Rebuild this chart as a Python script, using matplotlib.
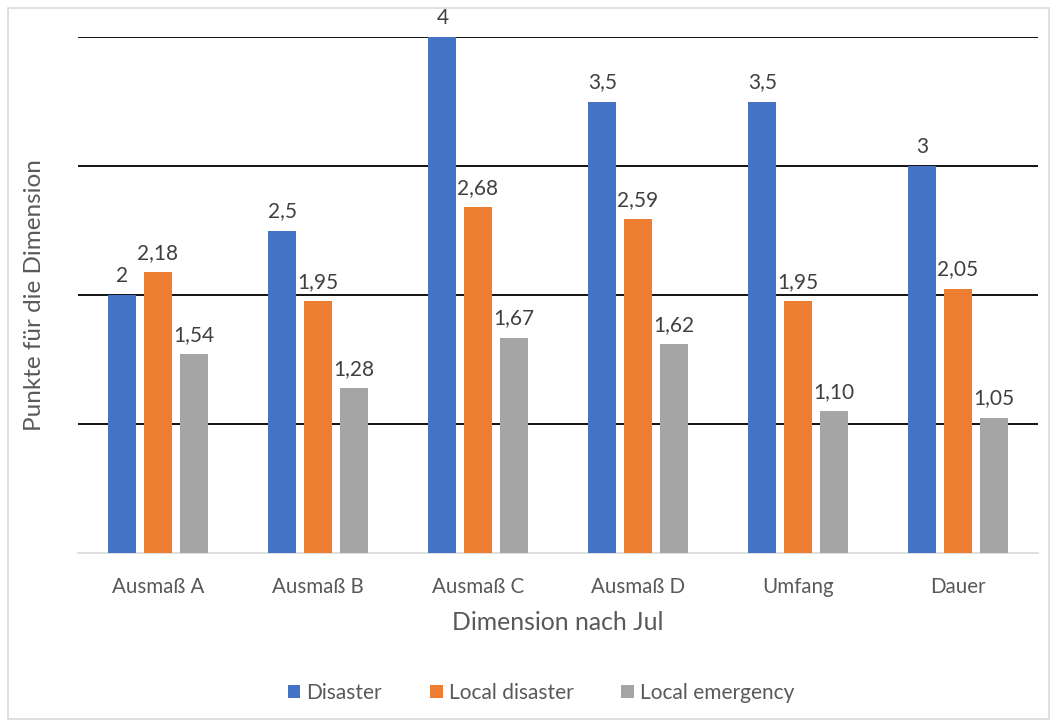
import matplotlib.pyplot as plt
import numpy as np
from matplotlib.patches import Rectangle

plt.rcParams['font.family'] = ['Lato', 'DejaVu Sans']

categories = ['Ausmaß A', 'Ausmaß B', 'Ausmaß C', 'Ausmaß D', 'Umfang', 'Dauer']
series = ['Disaster', 'Local disaster', 'Local emergency']
disaster = [2, 2.5, 4, 3.5, 3.5, 3]
local_disaster = [2.18, 1.95, 2.68, 2.59, 1.95, 2.05]
local_emergency = [1.54, 1.28, 1.67, 1.62, 1.10, 1.05]
labels_disaster = ['2', '2,5', '4', '3,5', '3,5', '3']
labels_local = ['2,18', '1,95', '2,68', '2,59', '1,95', '2,05']
labels_emergency = ['1,54', '1,28', '1,67', '1,62', '1,10', '1,05']

colors = ['#4472C4', '#ED7D31', '#A5A5A5']
text_col = '#595959'

fig = plt.figure(figsize=(10.59, 7.26), dpi=100)
ax = fig.add_axes([78 / 1059, 1 - 553 / 726, 960 / 1059, 516 / 726])

# outer chart border
fig.patches.append(Rectangle((8 / 1059, 7 / 726), 1041 / 1059, 711 / 726,
                             transform=fig.transFigure, fill=False,
                             edgecolor='#d9d9d9', linewidth=1.2))

x = np.arange(len(categories))
width = 0.175
step = 0.222
data = [disaster, local_disaster, local_emergency]
labs = [labels_disaster, labels_local, labels_emergency]

for i, (vals, lab) in enumerate(zip(data, labs)):
    pos = x + (i - 1) * step
    ax.bar(pos, vals, width, color=colors[i], label=series[i], zorder=3)
    for p, v, t in zip(pos, vals, lab):
        ax.text(p, v + 0.07, t, ha='center', va='bottom', fontsize=15,
                color='#404040')

ax.set_xlim(-0.5, len(categories) - 0.5)
ax.set_ylim(0, 4)
ax.set_yticks([1, 2, 3, 4])
ax.yaxis.grid(True, color='black', linewidth=1.3, zorder=0)
ax.tick_params(axis='y', left=False, labelleft=False)
ax.set_xticks(x)
ax.set_xticklabels(categories, fontsize=14.8, color=text_col)
ax.tick_params(axis='x', length=0, pad=17)
for s in ['top', 'right', 'left']:
    ax.spines[s].set_visible(False)
ax.spines['bottom'].set_color('#d9d9d9')
ax.spines['bottom'].set_linewidth(1.2)

ax.set_xlabel('Dimension nach Jul', fontsize=17.8, color=text_col, labelpad=10)
fig.text(35 / 1059, 1 - 295 / 726, 'Punkte für die Dimension', rotation=90,
         ha='center', va='center', fontsize=17.5, color=text_col)

leg = fig.legend(loc='center', bbox_to_anchor=(0.511, 1 - 693 / 726), ncol=3,
                 frameon=False, fontsize=15, handlelength=0.6, handleheight=0.6,
                 handletextpad=0.3, columnspacing=2.3)
for t in leg.get_texts():
    t.set_color(text_col)

fig.savefig('out.png', dpi=100)
